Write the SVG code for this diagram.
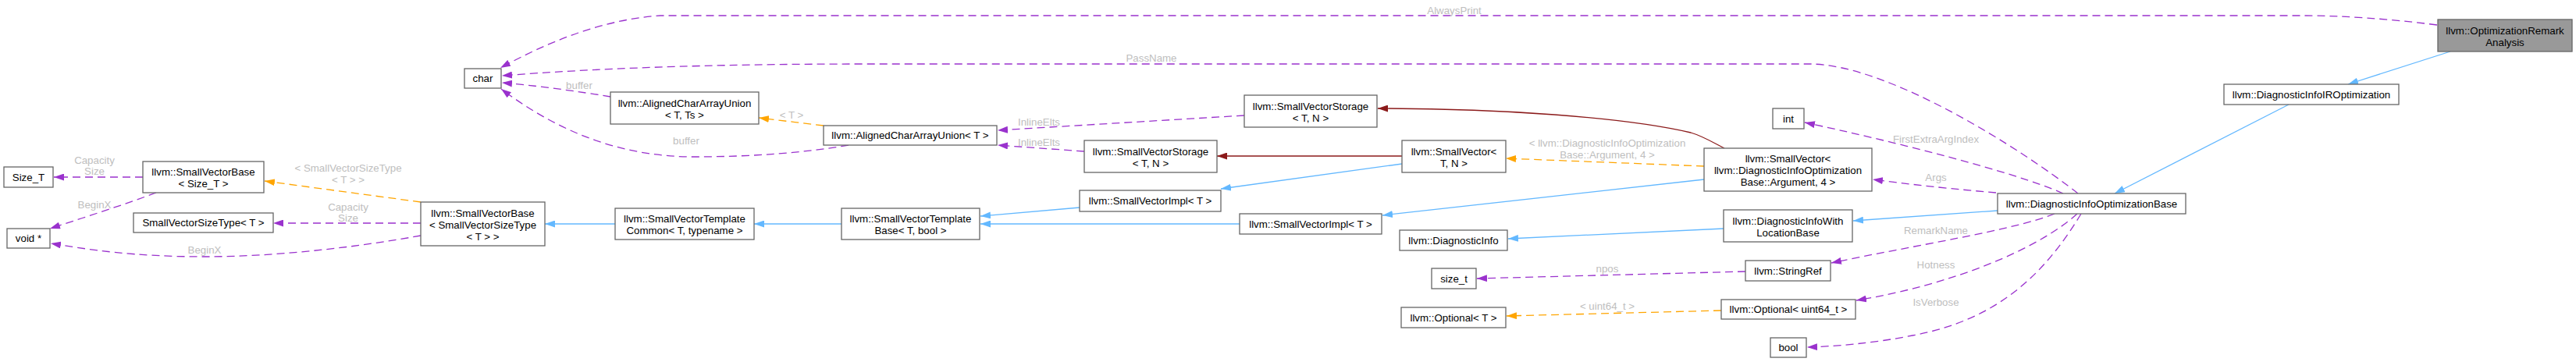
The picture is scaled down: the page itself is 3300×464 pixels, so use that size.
<svg xmlns="http://www.w3.org/2000/svg" width="3300" height="464" viewBox="0 0 3300 464">
<style>
.nd rect{fill:#ffffff;stroke:#666666;stroke-width:1.3}
.nd.root rect{fill:#999999}
text{font-family:"Liberation Sans",Arial,Helvetica,sans-serif;font-size:13.3px;text-anchor:middle}
.nd text{fill:#000000}
.lb{fill:#bebebe}
.e{fill:none;stroke-width:1.3}
.u{stroke:#9a32cd;stroke-dasharray:10,6;marker-end:url(#mu)}
.t{stroke:#ffa500;stroke-dasharray:10,6;marker-end:url(#mt)}
.i{stroke:#63b8ff;marker-end:url(#mi)}
.p{stroke:#8b1a1a;marker-end:url(#mp)}
</style>
<defs>
<marker id="mu" markerUnits="userSpaceOnUse" markerWidth="13" markerHeight="9" refX="13" refY="4.5" orient="auto"><path d="M0,0 L13,4.5 L0,9 z" fill="#9a32cd"/></marker>
<marker id="mt" markerUnits="userSpaceOnUse" markerWidth="13" markerHeight="9" refX="13" refY="4.5" orient="auto"><path d="M0,0 L13,4.5 L0,9 z" fill="#ffa500"/></marker>
<marker id="mi" markerUnits="userSpaceOnUse" markerWidth="13" markerHeight="9" refX="13" refY="4.5" orient="auto"><path d="M0,0 L13,4.5 L0,9 z" fill="#63b8ff"/></marker>
<marker id="mp" markerUnits="userSpaceOnUse" markerWidth="13" markerHeight="9" refX="13" refY="4.5" orient="auto"><path d="M0,0 L13,4.5 L0,9 z" fill="#8b1a1a"/></marker>
</defs>
<rect width="3300" height="464" fill="#ffffff"/>
<g id="edges">
<path class="e u" d="M3122,32 C3060,24 3000,20 2950,20 L846,20 C770,25 700,55 641,87"/>
<text class="lb" x="1863" y="17.5">AlwaysPrint</text>
<path class="e u" d="M2662,248 C2595,195 2420,82 2318,82 L1110,82 C900,82 760,88 643,97"/>
<text class="lb" x="1475" y="78.5">PassName</text>
<path class="e u" d="M782,124 C740,117 690,110 643,106"/>
<text class="lb" x="742" y="113.5">buffer</text>
<path class="e u" d="M1087,186 C1030,196 960,201 889,201 C790,201 710,165 642,114"/>
<text class="lb" x="879" y="184.5">buffer</text>
<path class="e t" d="M1055,161 L972,151"/>
<text class="lb" x="1014" y="151.5">&lt; T &gt;</text>
<path class="e u" d="M1594,148 L1278,167"/>
<text class="lb" x="1331" y="160.5">InlineElts</text>
<path class="e u" d="M1389,194 L1278,186"/>
<text class="lb" x="1331" y="186.5">InlineElts</text>
<path class="e p" d="M1796,200 L1559,200"/>
<path class="e p" d="M2209,190 C2190,180 2180,174 2166,170 C2080,150 1920,139 1765,139"/>
<path class="e t" d="M2183,213 L1929,203"/>
<text class="lb" x="2059" y="187.5">&lt; llvm::DiagnosticInfoOptimization</text>
<text class="lb" x="2059" y="202.5">Base::Argument, 4 &gt;</text>
<path class="e i" d="M1796,210 L1564,242"/>
<path class="e i" d="M2183,230 L1771,276"/>
<path class="e i" d="M1383,266 L1256,277"/>
<path class="e i" d="M1588,287 L1256,287"/>
<path class="e i" d="M1078,287 L966,287"/>
<path class="e i" d="M788,287 L698,287"/>
<path class="e t" d="M539,259 L339,232"/>
<text class="lb" x="446" y="219.5">&lt; SmallVectorSizeType</text>
<text class="lb" x="446" y="234.5">&lt; T &gt; &gt;</text>
<path class="e u" d="M539,286 L350,286"/>
<text class="lb" x="446" y="269.5">Capacity</text>
<text class="lb" x="446" y="283.5">Size</text>
<path class="e u" d="M539,302 C450,318 350,329 262,329 C170,329 115,320 65,312"/>
<text class="lb" x="262" y="324.5">BeginX</text>
<path class="e u" d="M200,247 C160,262 110,278 64,293"/>
<text class="lb" x="121" y="266.5">BeginX</text>
<path class="e u" d="M183,227 L69,227"/>
<text class="lb" x="121" y="209.5">Capacity</text>
<text class="lb" x="121" y="223.5">Size</text>
<path class="e u" d="M2643,248 C2580,220 2420,180 2312,157"/>
<text class="lb" x="2480" y="182.5">FirstExtraArgIndex</text>
<path class="e u" d="M2557,247 C2510,243 2460,238 2399,230"/>
<text class="lb" x="2480" y="231.5">Args</text>
<path class="e u" d="M2632,274 C2580,295 2450,315 2346,337"/>
<text class="lb" x="2480" y="299.5">RemarkName</text>
<path class="e u" d="M2661,274 C2610,320 2500,365 2378,385"/>
<text class="lb" x="2480" y="343.5">Hotness</text>
<path class="e u" d="M2666,274 C2620,350 2560,410 2450,430 C2400,440 2350,444 2315,445"/>
<text class="lb" x="2480" y="391.5">IsVerbose</text>
<path class="e i" d="M2559,270 L2374,283"/>
<path class="e i" d="M2208,293 L1932,306"/>
<path class="e u" d="M2236,348 L1892,357"/>
<text class="lb" x="2059" y="348.5">npos</text>
<path class="e t" d="M2205,398 L1930,405"/>
<text class="lb" x="2059" y="396.5">&lt; uint64_t &gt;</text>
<path class="e i" d="M3139,66 L3008,108"/>
<path class="e i" d="M2932,134 L2709,248"/>
</g>
<g id="n_ora" class="nd root"><rect x="3123" y="25" width="172" height="41"/><text x="3209" y="43.5">llvm::OptimizationRemark</text><text x="3209" y="58.5">Analysis</text></g>
<g id="n_diiropt" class="nd"><rect x="2849" y="108" width="224" height="26"/><text x="2961" y="125.5">llvm::DiagnosticInfoIROptimization</text></g>
<g id="n_diob" class="nd"><rect x="2559" y="248" width="241" height="26"/><text x="2679.5" y="265.5">llvm::DiagnosticInfoOptimizationBase</text></g>
<g id="n_diwlb" class="nd"><rect x="2208" y="269" width="165" height="41"/><text x="2290.5" y="287.5">llvm::DiagnosticInfoWith</text><text x="2290.5" y="302.5">LocationBase</text></g>
<g id="n_diaginfo" class="nd"><rect x="1793" y="295" width="138" height="26"/><text x="1862" y="312.5">llvm::DiagnosticInfo</text></g>
<g id="n_stringref" class="nd"><rect x="2236" y="334" width="109" height="26"/><text x="2290.5" y="351.5">llvm::StringRef</text></g>
<g id="n_sizet" class="nd"><rect x="1834" y="344" width="57" height="26"/><text x="1862.5" y="361.5">size_t</text></g>
<g id="n_optu64" class="nd"><rect x="2205" y="384" width="172" height="25"/><text x="2291" y="401">llvm::Optional&lt; uint64_t &gt;</text></g>
<g id="n_optT" class="nd"><rect x="1795" y="394" width="134" height="26"/><text x="1862" y="411.5">llvm::Optional&lt; T &gt;</text></g>
<g id="n_bool" class="nd"><rect x="2268" y="433" width="46" height="25"/><text x="2291" y="450">bool</text></g>
<g id="n_int" class="nd"><rect x="2271" y="139" width="40" height="26"/><text x="2291" y="156.5">int</text></g>
<g id="n_svdiob" class="nd"><rect x="2183" y="190" width="215" height="55"/><text x="2290.5" y="207.5">llvm::SmallVector&lt;</text><text x="2290.5" y="222.5">llvm::DiagnosticInfoOptimization</text><text x="2290.5" y="237.5">Base::Argument, 4 &gt;</text></g>
<g id="n_svtn" class="nd"><rect x="1796" y="180" width="133" height="41"/><text x="1862.5" y="198.5">llvm::SmallVector&lt;</text><text x="1862.5" y="213.5">T, N &gt;</text></g>
<g id="n_svs_up" class="nd"><rect x="1594" y="122" width="170" height="41"/><text x="1679" y="140.5">llvm::SmallVectorStorage</text><text x="1679" y="155.5">&lt; T, N &gt;</text></g>
<g id="n_svs_lo" class="nd"><rect x="1389" y="180" width="170" height="41"/><text x="1474" y="198.5">llvm::SmallVectorStorage</text><text x="1474" y="213.5">&lt; T, N &gt;</text></g>
<g id="n_svimpl_up" class="nd"><rect x="1383" y="244" width="181" height="27"/><text x="1473.5" y="262">llvm::SmallVectorImpl&lt; T &gt;</text></g>
<g id="n_svimpl_lo" class="nd"><rect x="1588" y="274" width="182" height="26"/><text x="1679" y="291.5">llvm::SmallVectorImpl&lt; T &gt;</text></g>
<g id="n_svtb" class="nd"><rect x="1078" y="267" width="177" height="40"/><text x="1166.5" y="284.5">llvm::SmallVectorTemplate</text><text x="1166.5" y="299.5">Base&lt; T, bool &gt;</text></g>
<g id="n_svtc" class="nd"><rect x="788" y="267" width="178" height="40"/><text x="877" y="284.5">llvm::SmallVectorTemplate</text><text x="877" y="299.5">Common&lt; T, typename &gt;</text></g>
<g id="n_acau_t" class="nd"><rect x="1055" y="161" width="222" height="25"/><text x="1166" y="178">llvm::AlignedCharArrayUnion&lt; T &gt;</text></g>
<g id="n_acau_tts" class="nd"><rect x="782" y="118" width="190" height="41"/><text x="877" y="136.5">llvm::AlignedCharArrayUnion</text><text x="877" y="151.5">&lt; T, Ts &gt;</text></g>
<g id="n_char" class="nd"><rect x="595" y="88" width="47" height="25"/><text x="618.5" y="105">char</text></g>
<g id="n_svb_svst" class="nd"><rect x="539" y="259" width="159" height="56"/><text x="618.5" y="277.5">llvm::SmallVectorBase</text><text x="618.5" y="292.5">&lt; SmallVectorSizeType</text><text x="618.5" y="307.5">&lt; T &gt; &gt;</text></g>
<g id="n_svst" class="nd"><rect x="171" y="273" width="179" height="25"/><text x="260.5" y="290">SmallVectorSizeType&lt; T &gt;</text></g>
<g id="n_svb_sizet" class="nd"><rect x="183" y="207" width="155" height="40"/><text x="260.5" y="224.5">llvm::SmallVectorBase</text><text x="260.5" y="239.5">&lt; Size_T &gt;</text></g>
<g id="n_SizeT" class="nd"><rect x="5" y="214" width="63" height="26"/><text x="36.5" y="231.5">Size_T</text></g>
<g id="n_voidp" class="nd"><rect x="9" y="293" width="55" height="25"/><text x="36.5" y="310">void *</text></g>
</svg>
